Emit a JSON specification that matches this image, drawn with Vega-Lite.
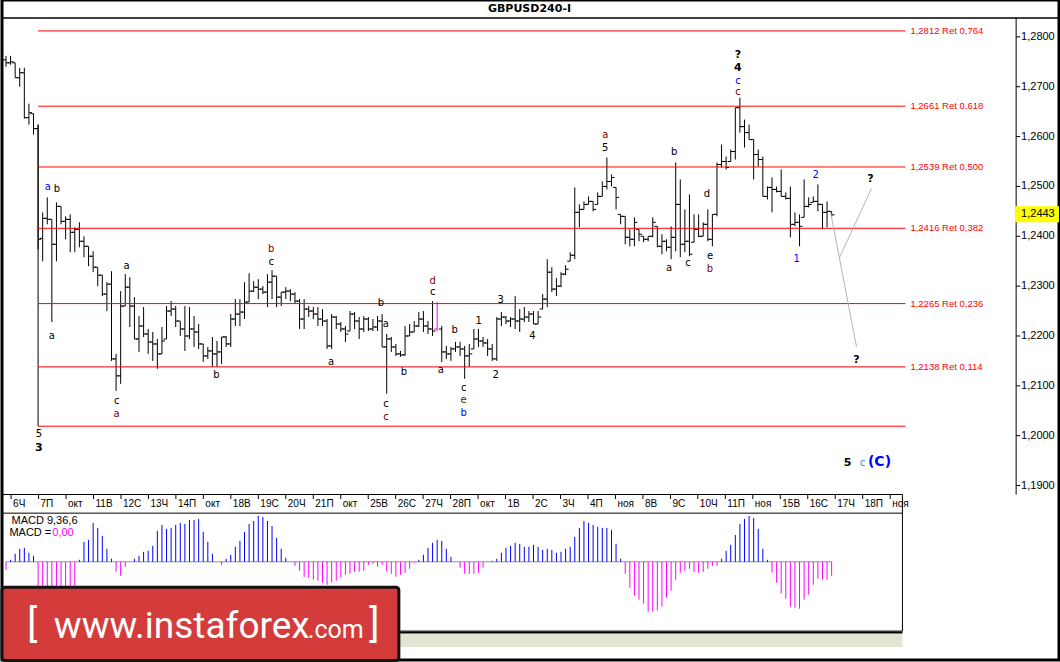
{
"$schema":"https://vega.github.io/schema/vega-lite/v6.json",
"width":1060,"height":662,"padding":0,
"autosize":{"type":"fit","contains":"padding"},
"background":"#ffffff",
"config":{"view":{"stroke":"#000","strokeWidth":3},"text":{"font":"Liberation Sans"}},
"datasets":{
"bars":[
{"i":0,"o":1.2754,"h":1.2762,"l":1.274,"c":1.2748},
{"i":1,"o":1.2748,"h":1.2762,"l":1.2744,"c":1.275},
{"i":2,"o":1.2748,"h":1.2748,"l":1.2718,"c":1.2718},
{"i":3,"o":1.2718,"h":1.2738,"l":1.27,"c":1.2728},
{"i":4,"o":1.2728,"h":1.2738,"l":1.2636,"c":1.2638},
{"i":5,"o":1.2638,"h":1.2666,"l":1.2624,"c":1.2648},
{"i":6,"o":1.2646,"h":1.2646,"l":1.2604,"c":1.2616},
{"i":7,"o":1.2616,"h":1.2624,"l":1.2374,"c":1.2394},
{"i":8,"o":1.2396,"h":1.2448,"l":1.235,"c":1.2436},
{"i":9,"o":1.2436,"h":1.2478,"l":1.2424,"c":1.2434},
{"i":10,"o":1.2434,"h":1.2434,"l":1.2228,"c":1.2384},
{"i":11,"o":1.2384,"h":1.2468,"l":1.235,"c":1.246},
{"i":12,"o":1.246,"h":1.246,"l":1.2424,"c":1.243},
{"i":13,"o":1.243,"h":1.244,"l":1.2394,"c":1.2434},
{"i":14,"o":1.2434,"h":1.2444,"l":1.2368,"c":1.2408},
{"i":15,"o":1.2408,"h":1.2418,"l":1.2368,"c":1.2414},
{"i":16,"o":1.2414,"h":1.2428,"l":1.2378,"c":1.239},
{"i":17,"o":1.239,"h":1.24,"l":1.2358,"c":1.238},
{"i":18,"o":1.238,"h":1.238,"l":1.234,"c":1.236},
{"i":19,"o":1.236,"h":1.237,"l":1.2328,"c":1.2338},
{"i":20,"o":1.2338,"h":1.2338,"l":1.23,"c":1.2322},
{"i":21,"o":1.2322,"h":1.2322,"l":1.228,"c":1.2284},
{"i":22,"o":1.2284,"h":1.2308,"l":1.225,"c":1.2304},
{"i":23,"o":1.2304,"h":1.233,"l":1.215,"c":1.2154},
{"i":24,"o":1.2154,"h":1.2164,"l":1.209,"c":1.212},
{"i":25,"o":1.212,"h":1.229,"l":1.2104,"c":1.226},
{"i":26,"o":1.226,"h":1.2324,"l":1.226,"c":1.2298},
{"i":27,"o":1.2298,"h":1.2318,"l":1.2218,"c":1.226},
{"i":28,"o":1.226,"h":1.2278,"l":1.2194,"c":1.2194},
{"i":29,"o":1.2194,"h":1.224,"l":1.2168,"c":1.222},
{"i":30,"o":1.222,"h":1.2258,"l":1.2198,"c":1.2204},
{"i":31,"o":1.2204,"h":1.2214,"l":1.2164,"c":1.2188},
{"i":32,"o":1.2188,"h":1.2208,"l":1.215,"c":1.2184},
{"i":33,"o":1.2184,"h":1.2194,"l":1.2134,"c":1.2164},
{"i":34,"o":1.2164,"h":1.2218,"l":1.2164,"c":1.219},
{"i":35,"o":1.2194,"h":1.226,"l":1.2194,"c":1.225},
{"i":36,"o":1.225,"h":1.227,"l":1.224,"c":1.2254},
{"i":37,"o":1.2254,"h":1.226,"l":1.2218,"c":1.223},
{"i":38,"o":1.223,"h":1.223,"l":1.22,"c":1.2214},
{"i":39,"o":1.2214,"h":1.226,"l":1.217,"c":1.22},
{"i":40,"o":1.22,"h":1.2258,"l":1.2194,"c":1.2214},
{"i":41,"o":1.2214,"h":1.224,"l":1.2178,"c":1.2208},
{"i":42,"o":1.2208,"h":1.2224,"l":1.2174,"c":1.2184},
{"i":43,"o":1.2184,"h":1.2184,"l":1.2148,"c":1.216},
{"i":44,"o":1.216,"h":1.2178,"l":1.2154,"c":1.217},
{"i":45,"o":1.217,"h":1.2198,"l":1.2138,"c":1.2164},
{"i":46,"o":1.2164,"h":1.219,"l":1.2138,"c":1.2168},
{"i":47,"o":1.2168,"h":1.2198,"l":1.2144,"c":1.2198},
{"i":48,"o":1.2198,"h":1.22,"l":1.2178,"c":1.2184},
{"i":49,"o":1.2184,"h":1.2244,"l":1.2178,"c":1.2234},
{"i":50,"o":1.2234,"h":1.2274,"l":1.222,"c":1.2244},
{"i":51,"o":1.2244,"h":1.2274,"l":1.222,"c":1.2248},
{"i":52,"o":1.2248,"h":1.2308,"l":1.2234,"c":1.2268},
{"i":53,"o":1.2268,"h":1.2326,"l":1.2268,"c":1.229},
{"i":54,"o":1.229,"h":1.231,"l":1.2288,"c":1.2298},
{"i":55,"o":1.2298,"h":1.2314,"l":1.2274,"c":1.2294},
{"i":56,"o":1.2294,"h":1.23,"l":1.2284,"c":1.2288},
{"i":57,"o":1.2288,"h":1.2324,"l":1.2258,"c":1.2308},
{"i":58,"o":1.2308,"h":1.2332,"l":1.2274,"c":1.232},
{"i":59,"o":1.232,"h":1.232,"l":1.2258,"c":1.2278},
{"i":60,"o":1.2278,"h":1.2288,"l":1.226,"c":1.2288},
{"i":61,"o":1.2288,"h":1.2298,"l":1.2274,"c":1.229},
{"i":62,"o":1.229,"h":1.2294,"l":1.227,"c":1.2284},
{"i":63,"o":1.2284,"h":1.2288,"l":1.2264,"c":1.227},
{"i":64,"o":1.227,"h":1.2274,"l":1.2214,"c":1.2234},
{"i":65,"o":1.2234,"h":1.2274,"l":1.2214,"c":1.2254},
{"i":66,"o":1.2254,"h":1.226,"l":1.2238,"c":1.225},
{"i":67,"o":1.225,"h":1.2258,"l":1.2234,"c":1.2244},
{"i":68,"o":1.2244,"h":1.2258,"l":1.222,"c":1.2234},
{"i":69,"o":1.2234,"h":1.2254,"l":1.222,"c":1.223},
{"i":70,"o":1.223,"h":1.2234,"l":1.2174,"c":1.218},
{"i":71,"o":1.218,"h":1.2244,"l":1.2174,"c":1.2238},
{"i":72,"o":1.2238,"h":1.224,"l":1.2214,"c":1.2224},
{"i":73,"o":1.2224,"h":1.2228,"l":1.2208,"c":1.2214},
{"i":74,"o":1.2214,"h":1.222,"l":1.2188,"c":1.2204},
{"i":75,"o":1.221,"h":1.225,"l":1.221,"c":1.2244},
{"i":76,"o":1.2244,"h":1.2248,"l":1.2214,"c":1.223},
{"i":77,"o":1.223,"h":1.2238,"l":1.2194,"c":1.2214},
{"i":78,"o":1.2214,"h":1.224,"l":1.2208,"c":1.2234},
{"i":79,"o":1.2234,"h":1.2238,"l":1.221,"c":1.2214},
{"i":80,"o":1.2214,"h":1.2234,"l":1.221,"c":1.2218},
{"i":81,"o":1.2218,"h":1.224,"l":1.221,"c":1.223},
{"i":82,"o":1.223,"h":1.2244,"l":1.2178,"c":1.2178},
{"i":83,"o":1.2178,"h":1.2204,"l":1.2084,"c":1.2194},
{"i":84,"o":1.2194,"h":1.2198,"l":1.2168,"c":1.2178},
{"i":85,"o":1.2178,"h":1.2184,"l":1.216,"c":1.2164},
{"i":86,"o":1.2164,"h":1.217,"l":1.2158,"c":1.2162},
{"i":87,"o":1.2162,"h":1.222,"l":1.216,"c":1.22},
{"i":88,"o":1.22,"h":1.2224,"l":1.22,"c":1.2208},
{"i":89,"o":1.2208,"h":1.223,"l":1.2208,"c":1.222},
{"i":90,"o":1.222,"h":1.2248,"l":1.2218,"c":1.2234},
{"i":91,"o":1.2234,"h":1.225,"l":1.2208,"c":1.222},
{"i":92,"o":1.222,"h":1.223,"l":1.2204,"c":1.2214},
{"i":93,"o":1.2214,"h":1.227,"l":1.22,"c":1.221},
{"i":95,"o":1.2214,"h":1.222,"l":1.2148,"c":1.2168},
{"i":96,"o":1.2168,"h":1.218,"l":1.2154,"c":1.2164},
{"i":97,"o":1.2164,"h":1.2178,"l":1.215,"c":1.2174},
{"i":98,"o":1.2174,"h":1.2188,"l":1.2168,"c":1.2178},
{"i":99,"o":1.2178,"h":1.2188,"l":1.216,"c":1.2174},
{"i":100,"o":1.2174,"h":1.218,"l":1.2114,"c":1.216},
{"i":101,"o":1.216,"h":1.2184,"l":1.2138,"c":1.2164},
{"i":102,"o":1.2174,"h":1.2214,"l":1.2174,"c":1.2194},
{"i":103,"o":1.2194,"h":1.2214,"l":1.2178,"c":1.219},
{"i":104,"o":1.219,"h":1.2198,"l":1.2178,"c":1.2186},
{"i":105,"o":1.2186,"h":1.2194,"l":1.216,"c":1.2174},
{"i":106,"o":1.2174,"h":1.2184,"l":1.215,"c":1.2154},
{"i":107,"o":1.2154,"h":1.2238,"l":1.215,"c":1.2234},
{"i":108,"o":1.2234,"h":1.2248,"l":1.222,"c":1.2238},
{"i":109,"o":1.2238,"h":1.224,"l":1.2224,"c":1.223},
{"i":110,"o":1.223,"h":1.2238,"l":1.2218,"c":1.2234},
{"i":111,"o":1.2234,"h":1.228,"l":1.2214,"c":1.223},
{"i":112,"o":1.223,"h":1.2254,"l":1.2208,"c":1.2234},
{"i":113,"o":1.2234,"h":1.2258,"l":1.2228,"c":1.2238},
{"i":114,"o":1.2238,"h":1.225,"l":1.2228,"c":1.2244},
{"i":115,"o":1.2244,"h":1.225,"l":1.2224,"c":1.2224},
{"i":116,"o":1.2224,"h":1.225,"l":1.2224,"c":1.2238},
{"i":117,"o":1.2254,"h":1.2284,"l":1.2254,"c":1.2274},
{"i":118,"o":1.2274,"h":1.2354,"l":1.2258,"c":1.2328},
{"i":119,"o":1.2328,"h":1.2338,"l":1.2288,"c":1.2294},
{"i":120,"o":1.2294,"h":1.2316,"l":1.228,"c":1.23},
{"i":121,"o":1.23,"h":1.2328,"l":1.2298,"c":1.2324},
{"i":122,"o":1.2324,"h":1.2342,"l":1.2322,"c":1.2334},
{"i":123,"o":1.235,"h":1.2368,"l":1.235,"c":1.2362},
{"i":124,"o":1.2362,"h":1.2498,"l":1.2354,"c":1.2448},
{"i":125,"o":1.2448,"h":1.2464,"l":1.2418,"c":1.2454},
{"i":126,"o":1.2454,"h":1.247,"l":1.2454,"c":1.2464},
{"i":127,"o":1.2464,"h":1.248,"l":1.2464,"c":1.247},
{"i":128,"o":1.247,"h":1.247,"l":1.245,"c":1.2454},
{"i":129,"o":1.2464,"h":1.2488,"l":1.2464,"c":1.248},
{"i":130,"o":1.248,"h":1.251,"l":1.248,"c":1.25},
{"i":131,"o":1.25,"h":1.2558,"l":1.2494,"c":1.251},
{"i":132,"o":1.251,"h":1.2524,"l":1.25,"c":1.2518},
{"i":133,"o":1.2498,"h":1.2498,"l":1.2454,"c":1.2478},
{"i":134,"o":1.2444,"h":1.2444,"l":1.2424,"c":1.244},
{"i":135,"o":1.244,"h":1.244,"l":1.2384,"c":1.2398},
{"i":136,"o":1.2398,"h":1.2414,"l":1.238,"c":1.2394},
{"i":137,"o":1.2394,"h":1.2438,"l":1.238,"c":1.2428},
{"i":138,"o":1.2414,"h":1.2414,"l":1.239,"c":1.2404},
{"i":139,"o":1.24,"h":1.24,"l":1.2388,"c":1.2394},
{"i":140,"o":1.2394,"h":1.24,"l":1.239,"c":1.24},
{"i":141,"o":1.24,"h":1.2438,"l":1.2398,"c":1.2428},
{"i":142,"o":1.242,"h":1.242,"l":1.2378,"c":1.238},
{"i":143,"o":1.238,"h":1.2404,"l":1.2364,"c":1.239},
{"i":144,"o":1.239,"h":1.2394,"l":1.237,"c":1.2378},
{"i":145,"o":1.2378,"h":1.242,"l":1.2354,"c":1.2398},
{"i":146,"o":1.2398,"h":1.2548,"l":1.237,"c":1.2464},
{"i":147,"o":1.2464,"h":1.2514,"l":1.2358,"c":1.2384},
{"i":148,"o":1.2384,"h":1.2454,"l":1.2368,"c":1.239},
{"i":149,"o":1.239,"h":1.2484,"l":1.236,"c":1.2364},
{"i":150,"o":1.2388,"h":1.2444,"l":1.2388,"c":1.2414},
{"i":151,"o":1.2414,"h":1.2444,"l":1.2398,"c":1.24},
{"i":152,"o":1.24,"h":1.2428,"l":1.24,"c":1.2424},
{"i":153,"o":1.2424,"h":1.2454,"l":1.239,"c":1.2394},
{"i":154,"o":1.2394,"h":1.2444,"l":1.238,"c":1.2444},
{"i":155,"o":1.2444,"h":1.2548,"l":1.244,"c":1.2544},
{"i":156,"o":1.2544,"h":1.2584,"l":1.2538,"c":1.255},
{"i":157,"o":1.255,"h":1.256,"l":1.2534,"c":1.2538},
{"i":158,"o":1.255,"h":1.2574,"l":1.255,"c":1.257},
{"i":159,"o":1.257,"h":1.2658,"l":1.2554,"c":1.2658},
{"i":160,"o":1.2658,"h":1.2678,"l":1.2608,"c":1.262},
{"i":161,"o":1.262,"h":1.2634,"l":1.2578,"c":1.2608},
{"i":162,"o":1.2608,"h":1.2624,"l":1.2594,"c":1.2594},
{"i":163,"o":1.2594,"h":1.2594,"l":1.2514,"c":1.2564},
{"i":164,"o":1.2564,"h":1.2574,"l":1.254,"c":1.2554},
{"i":165,"o":1.2554,"h":1.256,"l":1.248,"c":1.248},
{"i":166,"o":1.248,"h":1.25,"l":1.2474,"c":1.2498},
{"i":167,"o":1.2498,"h":1.2518,"l":1.2448,"c":1.2494},
{"i":168,"o":1.2494,"h":1.25,"l":1.2488,"c":1.249},
{"i":169,"o":1.249,"h":1.2534,"l":1.248,"c":1.248},
{"i":170,"o":1.248,"h":1.2488,"l":1.2474,"c":1.2476},
{"i":171,"o":1.2476,"h":1.25,"l":1.2398,"c":1.2424},
{"i":172,"o":1.2424,"h":1.2448,"l":1.242,"c":1.2428},
{"i":173,"o":1.2428,"h":1.2444,"l":1.238,"c":1.242},
{"i":174,"o":1.2438,"h":1.2514,"l":1.2438,"c":1.246},
{"i":175,"o":1.246,"h":1.2478,"l":1.2458,"c":1.2464},
{"i":176,"o":1.2468,"h":1.248,"l":1.2468,"c":1.247},
{"i":177,"o":1.247,"h":1.2504,"l":1.245,"c":1.2464},
{"i":178,"o":1.2464,"h":1.2464,"l":1.2414,"c":1.2448},
{"i":179,"o":1.2448,"h":1.247,"l":1.2418,"c":1.245},
{"i":180,"o":1.245,"h":1.245,"l":1.244,"c":1.2443}
],
"mag":[{"i":94,"o":1.2214,"h":1.2268,"l":1.221,"c":1.2214}],
"fib":[
{"p":1.2812,"lab":"1,2812 Ret 0,764"},
{"p":1.2661,"lab":"1,2661 Ret 0,618"},
{"p":1.2539,"lab":"1,2539 Ret 0,500"},
{"p":1.2416,"lab":"1,2416 Ret 0,382"},
{"p":1.2265,"lab":"1,2265 Ret 0,236"},
{"p":1.2138,"lab":"1,2138 Ret 0,114"},
{"p":1.2019,"lab":""}
],
"proj":[
{"i":179.78,"p":1.2448,"g":"a"},{"i":185.43,"p":1.2178,"g":"a"},
{"i":181.74,"p":1.2358,"g":"b"},{"i":188.7,"p":1.2496,"g":"b"}
],
"wl":[
{"i":9.13,"p":1.2498,"t":"a","k":"b"},
{"i":11.09,"p":1.2494,"t":"b","k":"k"},
{"i":10.0,"p":1.22,"t":"a","k":"k"},
{"i":26.3,"p":1.234,"t":"a","k":"k"},
{"i":24.13,"p":1.207,"t":"c","k":"k"},
{"i":24.13,"p":1.2044,"t":"a","k":"r"},
{"i":45.87,"p":1.2122,"t":"b","k":"k"},
{"i":57.83,"p":1.2374,"t":"b","k":"r"},
{"i":57.83,"p":1.2348,"t":"c","k":"k"},
{"i":70.87,"p":1.2148,"t":"a","k":"k"},
{"i":81.74,"p":1.2266,"t":"b","k":"k"},
{"i":82.83,"p":1.2224,"t":"a","k":"k"},
{"i":86.74,"p":1.2128,"t":"b","k":"k"},
{"i":82.83,"p":1.2064,"t":"c","k":"k"},
{"i":82.83,"p":1.2038,"t":"c","k":"r"},
{"i":93.04,"p":1.231,"t":"d","k":"r"},
{"i":93.04,"p":1.2288,"t":"c","k":"k"},
{"i":97.83,"p":1.2212,"t":"b","k":"k"},
{"i":94.78,"p":1.2132,"t":"a","k":"k"},
{"i":99.78,"p":1.2096,"t":"c","k":"k"},
{"i":99.78,"p":1.2072,"t":"e","k":"r"},
{"i":99.78,"p":1.2046,"t":"b","k":"b"},
{"i":103.04,"p":1.223,"t":"1","k":"k"},
{"i":107.83,"p":1.2272,"t":"3","k":"k"},
{"i":106.74,"p":1.2122,"t":"2","k":"k"},
{"i":114.78,"p":1.22,"t":"4","k":"k"},
{"i":130.65,"p":1.2578,"t":"5","k":"k"},
{"i":7.17,"p":1.2004,"t":"5","k":"k"},
{"i":144.57,"p":1.2336,"t":"a","k":"k"},
{"i":148.7,"p":1.2346,"t":"c","k":"k"},
{"i":130.65,"p":1.2604,"t":"a","k":"r"},
{"i":145.65,"p":1.257,"t":"b","k":"k"},
{"i":152.83,"p":1.2484,"t":"d","k":"k"},
{"i":153.48,"p":1.236,"t":"e","k":"k"},
{"i":153.48,"p":1.2334,"t":"b","k":"r"},
{"i":159.57,"p":1.2712,"t":"c","k":"b"},
{"i":159.57,"p":1.269,"t":"c","k":"r"},
{"i":176.52,"p":1.2522,"t":"2","k":"b"},
{"i":172.39,"p":1.2354,"t":"1","k":"b"},
{"i":186.74,"p":1.1946,"t":"c","k":"c"}
],
"wb":[
{"i":159.57,"p":1.2764,"t":"?"},
{"i":159.57,"p":1.2738,"t":"4"},
{"i":188.48,"p":1.2514,"t":"?"},
{"i":185.43,"p":1.2152,"t":"?"},
{"i":183.48,"p":1.1946,"t":"5"},
{"i":7.17,"p":1.1976,"t":"3"}
],
"ax":[
{"p":1.28,"lab":"1,2800"},{"p":1.27,"lab":"1,2700"},{"p":1.26,"lab":"1,2600"},{"p":1.25,"lab":"1,2500"},{"p":1.24,"lab":"1,2400"},
{"p":1.23,"lab":"1,2300"},{"p":1.22,"lab":"1,2200"},{"p":1.21,"lab":"1,2100"},{"p":1.2,"lab":"1,2000"},{"p":1.19,"lab":"1,1900"}
],
"xl":[
{"i":1.11,"t":"6Ч"},{"i":7.1,"t":"7П"},{"i":13.09,"t":"окт"},{"i":19.08,"t":"11В"},{"i":25.07,"t":"12С"},{"i":31.05,"t":"13Ч"},
{"i":37.04,"t":"14П"},{"i":43.03,"t":"окт"},{"i":49.02,"t":"18В"},{"i":55.01,"t":"19С"},{"i":61.0,"t":"20Ч"},{"i":66.99,"t":"21П"},
{"i":72.98,"t":"окт"},{"i":78.97,"t":"25В"},{"i":84.96,"t":"26С"},{"i":90.94,"t":"27Ч"},{"i":96.93,"t":"28П"},{"i":102.92,"t":"окт"},
{"i":108.91,"t":"1В"},{"i":114.9,"t":"2С"},{"i":120.89,"t":"3Ч"},{"i":126.88,"t":"4П"},{"i":132.87,"t":"ноя"},{"i":138.86,"t":"8В"},
{"i":144.85,"t":"9С"},{"i":150.83,"t":"10Ч"},{"i":156.82,"t":"11П"},{"i":162.81,"t":"ноя"},{"i":168.8,"t":"15В"},{"i":174.79,"t":"16С"},
{"i":180.78,"t":"17Ч"},{"i":186.77,"t":"18П"},{"i":192.76,"t":"ноя"}
],
"macd":[
{"i":0,"m":-0.0008},{"i":1,"m":0.0002},{"i":2,"m":0.0008},{"i":3,"m":0.0013},{"i":4,"m":0.0014},{"i":5,"m":0.0009},{"i":6,"m":0.0006},
{"i":7,"m":-0.003},{"i":8,"m":-0.0035},{"i":9,"m":-0.004},{"i":10,"m":-0.0045},{"i":11,"m":-0.0045},{"i":12,"m":-0.0042},{"i":13,"m":-0.004},
{"i":14,"m":-0.0035},{"i":15,"m":-0.003},{"i":16,"m":0.0002},{"i":17,"m":0.002},{"i":18,"m":0.0022},{"i":19,"m":0.0039},{"i":20,"m":0.0034},
{"i":21,"m":0.0026},{"i":22,"m":0.0013},{"i":23,"m":0.0003},{"i":24,"m":-0.001},{"i":25,"m":-0.0014},{"i":26,"m":-0.0005},{"i":27,"m":0},
{"i":28,"m":0.0003},{"i":29,"m":0.0006},{"i":30,"m":0.001},{"i":31,"m":0.0011},{"i":32,"m":0.0016},{"i":33,"m":0.0031},{"i":34,"m":0.0037},
{"i":35,"m":0.0033},{"i":36,"m":0.0034},{"i":37,"m":0.0037},{"i":38,"m":0.0039},{"i":39,"m":0.0038},{"i":40,"m":0.0042},{"i":41,"m":0.0042},
{"i":42,"m":0.0043},{"i":43,"m":0.003},{"i":44,"m":0.002},{"i":45,"m":0.0008},{"i":46,"m":0},{"i":47,"m":-0.0003},{"i":48,"m":0.0003},
{"i":49,"m":0.0007},{"i":50,"m":0.0015},{"i":51,"m":0.0021},{"i":52,"m":0.003},{"i":53,"m":0.0038},{"i":54,"m":0.0041},{"i":55,"m":0.0046},
{"i":56,"m":0.0045},{"i":57,"m":0.0041},{"i":58,"m":0.0036},{"i":59,"m":0.0024},{"i":60,"m":0.0013},{"i":61,"m":0.0004},{"i":62,"m":0},
{"i":63,"m":-0.0004},{"i":64,"m":-0.0009},{"i":65,"m":-0.0015},{"i":66,"m":-0.0016},{"i":67,"m":-0.0018},{"i":68,"m":-0.0019},{"i":69,"m":-0.0021},
{"i":70,"m":-0.0023},{"i":71,"m":-0.0021},{"i":72,"m":-0.0019},{"i":73,"m":-0.0016},{"i":74,"m":-0.0013},{"i":75,"m":-0.0012},{"i":76,"m":-0.001},
{"i":77,"m":-0.001},{"i":78,"m":-0.0009},{"i":79,"m":-0.0003},{"i":80,"m":-0.0002},{"i":81,"m":-0.0005},{"i":82,"m":-0.0003},{"i":83,"m":-0.001},
{"i":84,"m":-0.0012},{"i":85,"m":-0.0015},{"i":86,"m":-0.0013},{"i":87,"m":-0.0011},{"i":88,"m":-0.0007},{"i":89,"m":-0.0001},{"i":90,"m":0.0002},
{"i":91,"m":0.0007},{"i":92,"m":0.0014},{"i":93,"m":0.0019},{"i":94,"m":0.0022},{"i":95,"m":0.0021},{"i":96,"m":0.0013},{"i":97,"m":0.0005},
{"i":98,"m":0},{"i":99,"m":-0.0006},{"i":100,"m":-0.0012},{"i":101,"m":-0.0012},{"i":102,"m":-0.0012},{"i":103,"m":-0.0011},{"i":104,"m":-0.0006},
{"i":105,"m":0},{"i":106,"m":0.0001},{"i":107,"m":0.0003},{"i":108,"m":0.0009},{"i":109,"m":0.0014},{"i":110,"m":0.0016},{"i":111,"m":0.0019},
{"i":112,"m":0.0018},{"i":113,"m":0.0015},{"i":114,"m":0.0015},{"i":115,"m":0.0017},{"i":116,"m":0.0015},{"i":117,"m":0.0012},{"i":118,"m":0.0013},
{"i":119,"m":0.0012},{"i":120,"m":0.0009},{"i":121,"m":0.001},{"i":122,"m":0.0013},{"i":123,"m":0.0015},{"i":124,"m":0.0025},{"i":125,"m":0.0034},
{"i":126,"m":0.0041},{"i":127,"m":0.0039},{"i":128,"m":0.0037},{"i":129,"m":0.0035},{"i":130,"m":0.0034},{"i":131,"m":0.0034},{"i":132,"m":0.0032},
{"i":133,"m":0.0018},{"i":134,"m":0.0003},{"i":135,"m":-0.0012},{"i":136,"m":-0.0026},{"i":137,"m":-0.0034},{"i":138,"m":-0.0038},{"i":139,"m":-0.0042},
{"i":140,"m":-0.005},{"i":141,"m":-0.005},{"i":142,"m":-0.0049},{"i":143,"m":-0.0045},{"i":144,"m":-0.0036},{"i":145,"m":-0.0029},{"i":146,"m":-0.0018},
{"i":147,"m":-0.0011},{"i":148,"m":-0.0009},{"i":149,"m":-0.0007},{"i":150,"m":-0.001},{"i":151,"m":-0.0011},{"i":152,"m":-0.001},{"i":153,"m":-0.0007},
{"i":154,"m":-0.0004},{"i":155,"m":-0.0004},{"i":156,"m":0.0003},{"i":157,"m":0.0011},{"i":158,"m":0.0017},{"i":159,"m":0.0027},{"i":160,"m":0.0038},
{"i":161,"m":0.0043},{"i":162,"m":0.0046},{"i":163,"m":0.0044},{"i":164,"m":0.0033},{"i":165,"m":0.0013},{"i":166,"m":0.0002},{"i":167,"m":-0.0011},
{"i":168,"m":-0.0021},{"i":169,"m":-0.0032},{"i":170,"m":-0.0037},{"i":171,"m":-0.0045},{"i":172,"m":-0.0046},{"i":173,"m":-0.0047},{"i":174,"m":-0.0038},
{"i":175,"m":-0.0033},{"i":176,"m":-0.0023},{"i":177,"m":-0.0017},{"i":178,"m":-0.0018},{"i":179,"m":-0.0018},{"i":180,"m":-0.0014}
]
},
"resolve":{"scale":{"y":"independent"}},
"layer":[
{"layer":[
{"data":{"values":[{}]},"mark":{"type":"rule","color":"#000","strokeWidth":1.5},
 "encoding":{"y":{"datum":1.2838,"type":"quantitative","scale":{"domain":[1.155,1.2874],"nice":false,"zero":false},"axis":null}}},
{"data":{"values":[{}]},"mark":{"type":"text","text":"GBPUSD240-I","font":"DejaVu Sans","fontWeight":"bold","fontSize":11,"align":"center","baseline":"middle","color":"#000"},
 "encoding":{"x":{"datum":114.13,"type":"quantitative","scale":{"domain":[-0.8696,229.5652],"nice":false,"zero":false},"axis":null},
  "y":{"datum":1.2856,"type":"quantitative","scale":{"domain":[1.155,1.2874],"nice":false,"zero":false},"axis":null}}},
{"data":{"name":"bars"},"mark":{"type":"rule","color":"#000","strokeWidth":1},
 "encoding":{"x":{"field":"i","type":"quantitative","scale":{"domain":[-0.8696,229.5652],"nice":false,"zero":false},"axis":null},
  "y":{"field":"h","type":"quantitative","scale":{"domain":[1.155,1.2874],"nice":false,"zero":false},"axis":null},"y2":{"field":"l"}}},
{"data":{"name":"bars"},"mark":{"type":"tick","orient":"horizontal","size":3,"thickness":1,"xOffset":-1.5,"color":"#000","opacity":1},
 "encoding":{"x":{"field":"i","type":"quantitative","scale":{"domain":[-0.8696,229.5652],"nice":false,"zero":false},"axis":null},
  "y":{"field":"o","type":"quantitative","scale":{"domain":[1.155,1.2874],"nice":false,"zero":false},"axis":null}}},
{"data":{"name":"bars"},"mark":{"type":"tick","orient":"horizontal","size":3,"thickness":1,"xOffset":1.5,"color":"#000","opacity":1},
 "encoding":{"x":{"field":"i","type":"quantitative","scale":{"domain":[-0.8696,229.5652],"nice":false,"zero":false},"axis":null},
  "y":{"field":"c","type":"quantitative","scale":{"domain":[1.155,1.2874],"nice":false,"zero":false},"axis":null}}},
{"data":{"name":"mag"},"mark":{"type":"rule","color":"#ff00ff","strokeWidth":1},
 "encoding":{"x":{"field":"i","type":"quantitative","scale":{"domain":[-0.8696,229.5652],"nice":false,"zero":false},"axis":null},
  "y":{"field":"h","type":"quantitative","scale":{"domain":[1.155,1.2874],"nice":false,"zero":false},"axis":null},"y2":{"field":"l"}}},
{"data":{"name":"mag"},"mark":{"type":"tick","orient":"horizontal","size":3,"thickness":1,"xOffset":-1.5,"color":"#ff00ff","opacity":1},
 "encoding":{"x":{"field":"i","type":"quantitative","scale":{"domain":[-0.8696,229.5652],"nice":false,"zero":false},"axis":null},
  "y":{"field":"o","type":"quantitative","scale":{"domain":[1.155,1.2874],"nice":false,"zero":false},"axis":null}}},
{"data":{"values":[{}]},"mark":{"type":"rule","color":"#000","strokeWidth":1},
 "encoding":{"x":{"datum":7,"type":"quantitative","scale":{"domain":[-0.8696,229.5652],"nice":false,"zero":false},"axis":null},
  "y":{"datum":1.2624,"type":"quantitative","scale":{"domain":[1.155,1.2874],"nice":false,"zero":false},"axis":null},"y2":{"datum":1.2019}}},
{"data":{"name":"fib"},"mark":{"type":"rule","color":"#ff0000","strokeWidth":1},
 "encoding":{"x":{"datum":7,"type":"quantitative","scale":{"domain":[-0.8696,229.5652],"nice":false,"zero":false},"axis":null},"x2":{"datum":196.1},
  "y":{"field":"p","type":"quantitative","scale":{"domain":[1.155,1.2874],"nice":false,"zero":false},"axis":null}}},
{"data":{"name":"fib"},"transform":[{"filter":"datum.lab != ''"}],"mark":{"type":"text","align":"left","baseline":"middle","color":"#ff0000","fontSize":9.5},
 "encoding":{"x":{"datum":197.17,"type":"quantitative","scale":{"domain":[-0.8696,229.5652],"nice":false,"zero":false},"axis":null},
  "y":{"field":"p","type":"quantitative","scale":{"domain":[1.155,1.2874],"nice":false,"zero":false},"axis":null},"text":{"field":"lab"}}},
{"data":{"name":"proj"},"mark":{"type":"line","color":"#b4b4b4","strokeWidth":1},
 "encoding":{"x":{"field":"i","type":"quantitative","scale":{"domain":[-0.8696,229.5652],"nice":false,"zero":false},"axis":null},
  "y":{"field":"p","type":"quantitative","scale":{"domain":[1.155,1.2874],"nice":false,"zero":false},"axis":null},"detail":{"field":"g"}}},
{"data":{"name":"wl"},"mark":{"type":"text","font":"DejaVu Sans","fontSize":10,"align":"center","baseline":"middle"},
 "encoding":{"x":{"field":"i","type":"quantitative","scale":{"domain":[-0.8696,229.5652],"nice":false,"zero":false},"axis":null},
  "y":{"field":"p","type":"quantitative","scale":{"domain":[1.155,1.2874],"nice":false,"zero":false},"axis":null},"text":{"field":"t"},
  "color":{"field":"k","type":"nominal","scale":{"domain":["k","r","b","c"],"range":["#000000","#800000","#0000ff","#1a9bd7"]},"legend":null}}},
{"data":{"name":"wb"},"mark":{"type":"text","font":"DejaVu Sans","fontSize":11,"fontWeight":"bold","align":"center","baseline":"middle","color":"#000"},
 "encoding":{"x":{"field":"i","type":"quantitative","scale":{"domain":[-0.8696,229.5652],"nice":false,"zero":false},"axis":null},
  "y":{"field":"p","type":"quantitative","scale":{"domain":[1.155,1.2874],"nice":false,"zero":false},"axis":null},"text":{"field":"t"}}},
{"data":{"values":[{}]},"mark":{"type":"text","text":"(C)","font":"DejaVu Sans","fontSize":14,"fontWeight":"bold","align":"center","baseline":"middle","color":"#0000ff"},
 "encoding":{"x":{"datum":190.43,"type":"quantitative","scale":{"domain":[-0.8696,229.5652],"nice":false,"zero":false},"axis":null},
  "y":{"datum":1.1948,"type":"quantitative","scale":{"domain":[1.155,1.2874],"nice":false,"zero":false},"axis":null}}},
{"data":{"values":[{}]},"mark":{"type":"rule","color":"#000","strokeWidth":1},
 "encoding":{"x":{"datum":220.22,"type":"quantitative","scale":{"domain":[-0.8696,229.5652],"nice":false,"zero":false},"axis":null},
  "y":{"datum":1.2838,"type":"quantitative","scale":{"domain":[1.155,1.2874],"nice":false,"zero":false},"axis":null},"y2":{"datum":1.1882}}},
{"data":{"name":"ax"},"mark":{"type":"rule","color":"#000","strokeWidth":1},
 "encoding":{"x":{"datum":220.22,"type":"quantitative","scale":{"domain":[-0.8696,229.5652],"nice":false,"zero":false},"axis":null},"x2":{"datum":221.1},
  "y":{"field":"p","type":"quantitative","scale":{"domain":[1.155,1.2874],"nice":false,"zero":false},"axis":null}}},
{"data":{"name":"ax"},"mark":{"type":"text","align":"left","baseline":"middle","fontSize":11,"color":"#000"},
 "encoding":{"x":{"datum":221.3,"type":"quantitative","scale":{"domain":[-0.8696,229.5652],"nice":false,"zero":false},"axis":null},
  "y":{"field":"p","type":"quantitative","scale":{"domain":[1.155,1.2874],"nice":false,"zero":false},"axis":null},"text":{"field":"lab"}}},
{"data":{"values":[{}]},"mark":{"type":"rect","color":"#ffff00"},
 "encoding":{"x":{"datum":219.99,"type":"quantitative","scale":{"domain":[-0.8696,229.5652],"nice":false,"zero":false},"axis":null},"x2":{"datum":229.57},
  "y":{"datum":1.246,"type":"quantitative","scale":{"domain":[1.155,1.2874],"nice":false,"zero":false},"axis":null},"y2":{"datum":1.2428}}},
{"data":{"values":[{}]},"mark":{"type":"text","text":"1,2443","align":"left","baseline":"middle","fontSize":11,"color":"#000"},
 "encoding":{"x":{"datum":221.3,"type":"quantitative","scale":{"domain":[-0.8696,229.5652],"nice":false,"zero":false},"axis":null},
  "y":{"datum":1.2444,"type":"quantitative","scale":{"domain":[1.155,1.2874],"nice":false,"zero":false},"axis":null}}}
]},
{"layer":[
{"data":{"values":[{}]},"mark":{"type":"rect","color":"#e4e4d2"},
 "encoding":{"x":{"datum":-0.87,"type":"quantitative","scale":{"domain":[-0.8696,229.5652],"nice":false,"zero":false},"axis":null},"x2":{"datum":195.43},
  "y":{"datum":-0.00725,"type":"quantitative","scale":{"domain":[-0.00985,0.05635],"nice":false,"zero":false},"axis":null},"y2":{"datum":-0.00855}}},
{"data":{"values":[{}]},"mark":{"type":"rect","fillOpacity":0,"stroke":"#000","strokeWidth":1},
 "encoding":{"x":{"datum":-0.76,"type":"quantitative","scale":{"domain":[-0.8696,229.5652],"nice":false,"zero":false},"axis":null},"x2":{"datum":195.43},
  "y":{"datum":0.00675,"type":"quantitative","scale":{"domain":[-0.00985,0.05635],"nice":false,"zero":false},"axis":null},"y2":{"datum":-0.00695}}},
{"data":{"values":[{}]},"mark":{"type":"rule","color":"#000","strokeWidth":1},
 "encoding":{"x":{"datum":-0.87,"type":"quantitative","scale":{"domain":[-0.8696,229.5652],"nice":false,"zero":false},"axis":null},"x2":{"datum":195.43},
  "y":{"datum":0.00488,"type":"quantitative","scale":{"domain":[-0.00985,0.05635],"nice":false,"zero":false},"axis":null}}},
{"data":{"values":[{}]},"mark":{"type":"rule","color":"#000","strokeWidth":2},
 "encoding":{"x":{"datum":-0.87,"type":"quantitative","scale":{"domain":[-0.8696,229.5652],"nice":false,"zero":false},"axis":null},"x2":{"datum":195.43},
  "y":{"datum":-0.0071,"type":"quantitative","scale":{"domain":[-0.00985,0.05635],"nice":false,"zero":false},"axis":null}}},
{"data":{"name":"xl"},"mark":{"type":"rule","color":"#000","strokeWidth":1},
 "encoding":{"x":{"field":"i","type":"quantitative","scale":{"domain":[-0.8696,229.5652],"nice":false,"zero":false},"axis":null},
  "y":{"datum":0.00675,"type":"quantitative","scale":{"domain":[-0.00985,0.05635],"nice":false,"zero":false},"axis":null},"y2":{"datum":0.0063}}},
{"data":{"name":"xl"},"mark":{"type":"text","align":"left","baseline":"middle","fontSize":10,"dx":2,"color":"#000"},
 "encoding":{"x":{"field":"i","type":"quantitative","scale":{"domain":[-0.8696,229.5652],"nice":false,"zero":false},"axis":null},
  "y":{"datum":0.00575,"type":"quantitative","scale":{"domain":[-0.00985,0.05635],"nice":false,"zero":false},"axis":null},"text":{"field":"t"}}},
{"data":{"values":[{}]},"mark":{"type":"rule","color":"#909090","strokeWidth":1},
 "encoding":{"x":{"datum":0,"type":"quantitative","scale":{"domain":[-0.8696,229.5652],"nice":false,"zero":false},"axis":null},"x2":{"datum":180},
  "y":{"datum":0,"type":"quantitative","scale":{"domain":[-0.00985,0.05635],"nice":false,"zero":false},"axis":null}}},
{"data":{"name":"macd"},"mark":{"type":"rule","strokeWidth":1},
 "encoding":{"x":{"field":"i","type":"quantitative","scale":{"domain":[-0.8696,229.5652],"nice":false,"zero":false},"axis":null},
  "y":{"field":"m","type":"quantitative","scale":{"domain":[-0.00985,0.05635],"nice":false,"zero":false},"axis":null},"y2":{"datum":0},
  "color":{"condition":{"test":"datum.m < 0","value":"#ff00ff"},"value":"#0000ff"}}},
{"data":{"values":[{}]},"mark":{"type":"text","text":"MACD 9,36,6","align":"left","baseline":"middle","fontSize":11,"color":"#000"},
 "encoding":{"x":{"datum":1.2,"type":"quantitative","scale":{"domain":[-0.8696,229.5652],"nice":false,"zero":false},"axis":null},
  "y":{"datum":0.00405,"type":"quantitative","scale":{"domain":[-0.00985,0.05635],"nice":false,"zero":false},"axis":null}}},
{"data":{"values":[{}]},"mark":{"type":"text","text":"MACD =","align":"left","baseline":"middle","fontSize":11,"color":"#000"},
 "encoding":{"x":{"datum":0.74,"type":"quantitative","scale":{"domain":[-0.8696,229.5652],"nice":false,"zero":false},"axis":null},
  "y":{"datum":0.00285,"type":"quantitative","scale":{"domain":[-0.00985,0.05635],"nice":false,"zero":false},"axis":null}}},
{"data":{"values":[{}]},"mark":{"type":"text","text":"0,00","align":"left","baseline":"middle","fontSize":11,"color":"#ff00ff"},
 "encoding":{"x":{"datum":10.1,"type":"quantitative","scale":{"domain":[-0.8696,229.5652],"nice":false,"zero":false},"axis":null},
  "y":{"datum":0.00285,"type":"quantitative","scale":{"domain":[-0.00985,0.05635],"nice":false,"zero":false},"axis":null}}},
{"data":{"values":[{}]},"mark":{"type":"rect","color":"#d43c3c","stroke":"#111","strokeWidth":3,"cornerRadius":3},
 "encoding":{"x":{"datum":-0.87,"type":"quantitative","scale":{"domain":[-0.8696,229.5652],"nice":false,"zero":false},"axis":null},"x2":{"datum":85.65},
  "y":{"datum":-0.00255,"type":"quantitative","scale":{"domain":[-0.00985,0.05635],"nice":false,"zero":false},"axis":null},"y2":{"datum":-0.0099}}},
{"data":{"values":[{}]},"mark":{"type":"text","text":"[","align":"left","baseline":"alphabetic","font":"Roboto","fontSize":38,"color":"#ffffff"},
 "encoding":{"x":{"datum":4.65,"type":"quantitative","scale":{"domain":[-0.8696,229.5652],"nice":false,"zero":false},"axis":null},
  "y":{"datum":-0.0075,"type":"quantitative","scale":{"domain":[-0.00985,0.05635],"nice":false,"zero":false},"axis":null}}},
{"data":{"values":[{}]},"mark":{"type":"text","text":"www.instaforex","align":"left","baseline":"alphabetic","font":"Roboto","fontSize":37,"color":"#ffffff"},
 "encoding":{"x":{"datum":10.43,"type":"quantitative","scale":{"domain":[-0.8696,229.5652],"nice":false,"zero":false},"axis":null},
  "y":{"datum":-0.00765,"type":"quantitative","scale":{"domain":[-0.00985,0.05635],"nice":false,"zero":false},"axis":null}}},
{"data":{"values":[{}]},"mark":{"type":"text","text":".com","align":"left","baseline":"alphabetic","font":"Roboto","fontSize":25,"color":"#ffffff"},
 "encoding":{"x":{"datum":65.8,"type":"quantitative","scale":{"domain":[-0.8696,229.5652],"nice":false,"zero":false},"axis":null},
  "y":{"datum":-0.00765,"type":"quantitative","scale":{"domain":[-0.00985,0.05635],"nice":false,"zero":false},"axis":null}}},
{"data":{"values":[{}]},"mark":{"type":"text","text":"]","align":"left","baseline":"alphabetic","font":"Roboto","fontSize":38,"color":"#ffffff"},
 "encoding":{"x":{"datum":79.2,"type":"quantitative","scale":{"domain":[-0.8696,229.5652],"nice":false,"zero":false},"axis":null},
  "y":{"datum":-0.0075,"type":"quantitative","scale":{"domain":[-0.00985,0.05635],"nice":false,"zero":false},"axis":null}}}
]}
]
}
